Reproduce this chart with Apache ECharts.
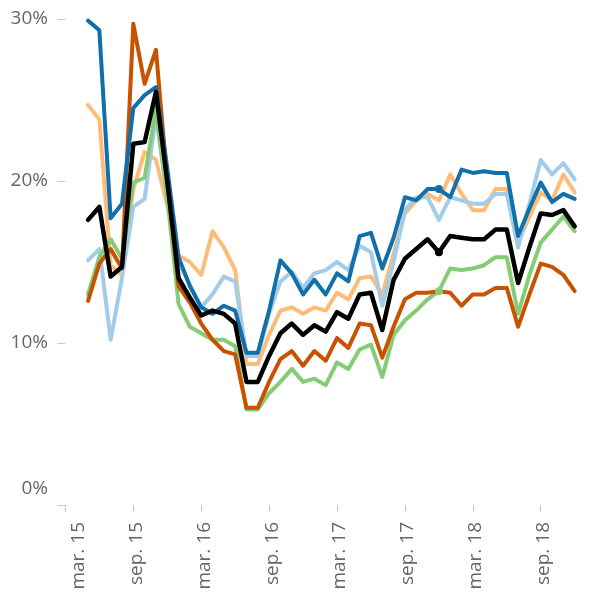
<!DOCTYPE html>
<html>
<head>
<meta charset="utf-8">
<script src="https://cdn.jsdelivr.net/npm/echarts@6/dist/echarts.min.js"></script>
<style>
  html, body { margin: 0; padding: 0; background: #fff; }
  #main { width: 592px; height: 594px; }
</style>
</head>
<body>
<div id="main"></div>
<script>
// months of the data points
var months = [
  '2015-05','2015-06','2015-07','2015-08','2015-09','2015-10','2015-11','2015-12',
  '2016-01','2016-02','2016-03','2016-04','2016-05','2016-06','2016-07','2016-08','2016-09','2016-10','2016-11','2016-12',
  '2017-01','2017-02','2017-03','2017-04','2017-05','2017-06','2017-07','2017-08','2017-09','2017-10','2017-11','2017-12',
  '2018-01','2018-02','2018-03','2018-04','2018-05','2018-06','2018-07','2018-08','2018-09','2018-10','2018-11','2018-12'
];
var tickMonths = ['2015-03','2015-09','2016-03','2016-09','2017-03','2017-09','2018-03','2018-09'];
var tickLabels = ['mar. 15','sep. 15','mar. 16','sep. 16','mar. 17','sep. 17','mar. 18','sep. 18'];
var hoverMonth = '2017-12'; // point shown with a dot

var lightOrange = [24.7, 23.8, 14.8, 14.2, 19.5, 21.8, 21.3, 18.5, 15.4, 15.0, 14.2, 16.9, 15.9, 14.5, 8.7, 8.7, 10.5, 12.0, 12.2, 11.8, 12.2, 12.0, 13.1, 12.7, 14.0, 14.1, 13.0, 15.5, 18.0, 18.8, 19.2, 18.8, 20.4, 19.2, 18.2, 18.2, 19.5, 19.5, 16.2, 17.8, 19.3, 18.8, 20.4, 19.3];
var lightBlue = [15.1, 15.8, 10.2, 14.0, 18.4, 18.9, 24.0, 19.0, 15.0, 13.6, 12.2, 13.0, 14.1, 13.8, 9.2, 9.2, 11.8, 13.8, 14.4, 13.4, 14.3, 14.5, 15.0, 14.5, 16.0, 15.6, 12.3, 15.0, 18.2, 19.0, 19.0, 17.6, 19.0, 18.8, 18.6, 18.6, 19.2, 19.2, 15.9, 18.6, 21.3, 20.4, 21.1, 20.1];
var green = [13.0, 15.3, 16.4, 15.2, 19.9, 20.2, 24.5, 19.0, 12.4, 11.0, 10.6, 10.2, 10.2, 9.8, 5.9, 5.9, 6.9, 7.6, 8.4, 7.6, 7.8, 7.4, 8.8, 8.4, 9.6, 9.9, 7.9, 10.5, 11.4, 12.0, 12.7, 13.2, 14.6, 14.5, 14.6, 14.8, 15.3, 15.3, 11.8, 14.2, 16.2, 17.0, 17.8, 16.9];
var darkOrange = [12.6, 14.9, 15.8, 14.6, 29.7, 26.0, 28.1, 20.0, 13.5, 12.5, 11.2, 10.2, 9.5, 9.3, 6.0, 6.0, 7.6, 9.0, 9.5, 8.6, 9.5, 8.9, 10.3, 9.7, 11.2, 11.1, 9.1, 11.0, 12.7, 13.1, 13.1, 13.2, 13.1, 12.3, 13.0, 13.0, 13.4, 13.4, 11.0, 13.0, 14.9, 14.7, 14.2, 13.2];
var darkBlue = [29.9, 29.3, 17.7, 18.6, 24.5, 25.3, 25.8, 20.8, 15.3, 13.5, 12.2, 11.8, 12.3, 12.0, 9.4, 9.4, 12.0, 15.1, 14.3, 13.0, 13.9, 13.0, 14.3, 13.8, 16.6, 16.8, 14.6, 16.5, 19.0, 18.8, 19.5, 19.5, 19.0, 20.7, 20.5, 20.6, 20.5, 20.5, 16.6, 18.3, 19.9, 18.7, 19.2, 18.9];
var black = [17.6, 18.4, 14.1, 14.7, 22.3, 22.4, 25.5, 20.0, 14.0, 12.8, 11.7, 12.0, 11.8, 11.2, 7.6, 7.6, 9.2, 10.6, 11.2, 10.5, 11.1, 10.7, 11.9, 11.5, 13.0, 13.1, 10.8, 13.9, 15.2, 15.8, 16.4, 15.6, 16.6, 16.5, 16.4, 16.4, 17.0, 17.0, 13.7, 15.9, 18.0, 17.9, 18.2, 17.2];

// month number counted from march 2015
function mIdx(s) {
  var p = s.split('-');
  return (+p[0] - 2015) * 12 + (+p[1] - 3);
}
var tickVals = tickMonths.map(mIdx);

function mk(vals, color, w, dot) {
  return {
    type: 'line',
    data: months.map(function (m, i) {
      var d = { value: [mIdx(m), vals[i]] };
      if (dot && m === hoverMonth) { d.symbol = 'circle'; d.symbolSize = 8; }
      return d;
    }),
    symbol: 'none',
    showSymbol: true,
    lineStyle: { color: color, width: w, cap: 'round', join: 'round' },
    itemStyle: { color: color }
  };
}

var font = '"Segoe UI", "Open Sans", "Noto Sans", sans-serif';
var lbl = { fontSize: 19, fontFamily: font, color: '#666' };
var myChart = echarts.init(document.getElementById('main'));
myChart.setOption({
  animation: false,
  grid: { left: 62, right: 6, top: 19, bottom: 89 },
  xAxis: {
    type: 'value',
    min: -0.3,
    max: 46,
    axisLine: { show: false },
    splitLine: { show: false },
    axisTick: { show: true, customValues: tickVals, length: 7, lineStyle: { color: '#c8c8c8' } },
    axisLabel: {
      customValues: tickVals,
      rotate: 90,
      margin: 17,
      color: '#666',
      fontSize: 19,
      fontFamily: font,
      formatter: function (v) {
        var k = tickVals.indexOf(v);
        return (k === 0 ? '{f|' : '{o|') + tickLabels[k] + '}';
      },
      rich: {
        f: Object.assign({ padding: [26, 0, 0, 0] }, lbl),
        o: Object.assign({ padding: [6, 0, 0, 0] }, lbl)
      }
    }
  },
  yAxis: {
    type: 'value',
    min: 0,
    max: 30,
    interval: 10,
    axisLine: { show: false },
    splitLine: { show: false },
    axisTick: { show: true, length: 8, lineStyle: { color: '#c8c8c8' } },
    axisLabel: {
      margin: 14,
      color: '#666',
      fontSize: 19,
      fontFamily: font,
      formatter: function (v) { return v === 0 ? '{z|0%}' : v + '%'; },
      rich: { z: Object.assign({ padding: [0, 0, 32, 0] }, lbl) }
    }
  },
  series: [
    mk(lightOrange, '#ffbc79', 4),
    mk(lightBlue, '#a3cce9', 4),
    mk(green, '#86cc74', 4, true),
    mk(darkOrange, '#c85200', 4),
    mk(darkBlue, '#1170aa', 4, true),
    mk(black, '#000000', 4.5, true)
  ]
});
</script>
</body>
</html>
